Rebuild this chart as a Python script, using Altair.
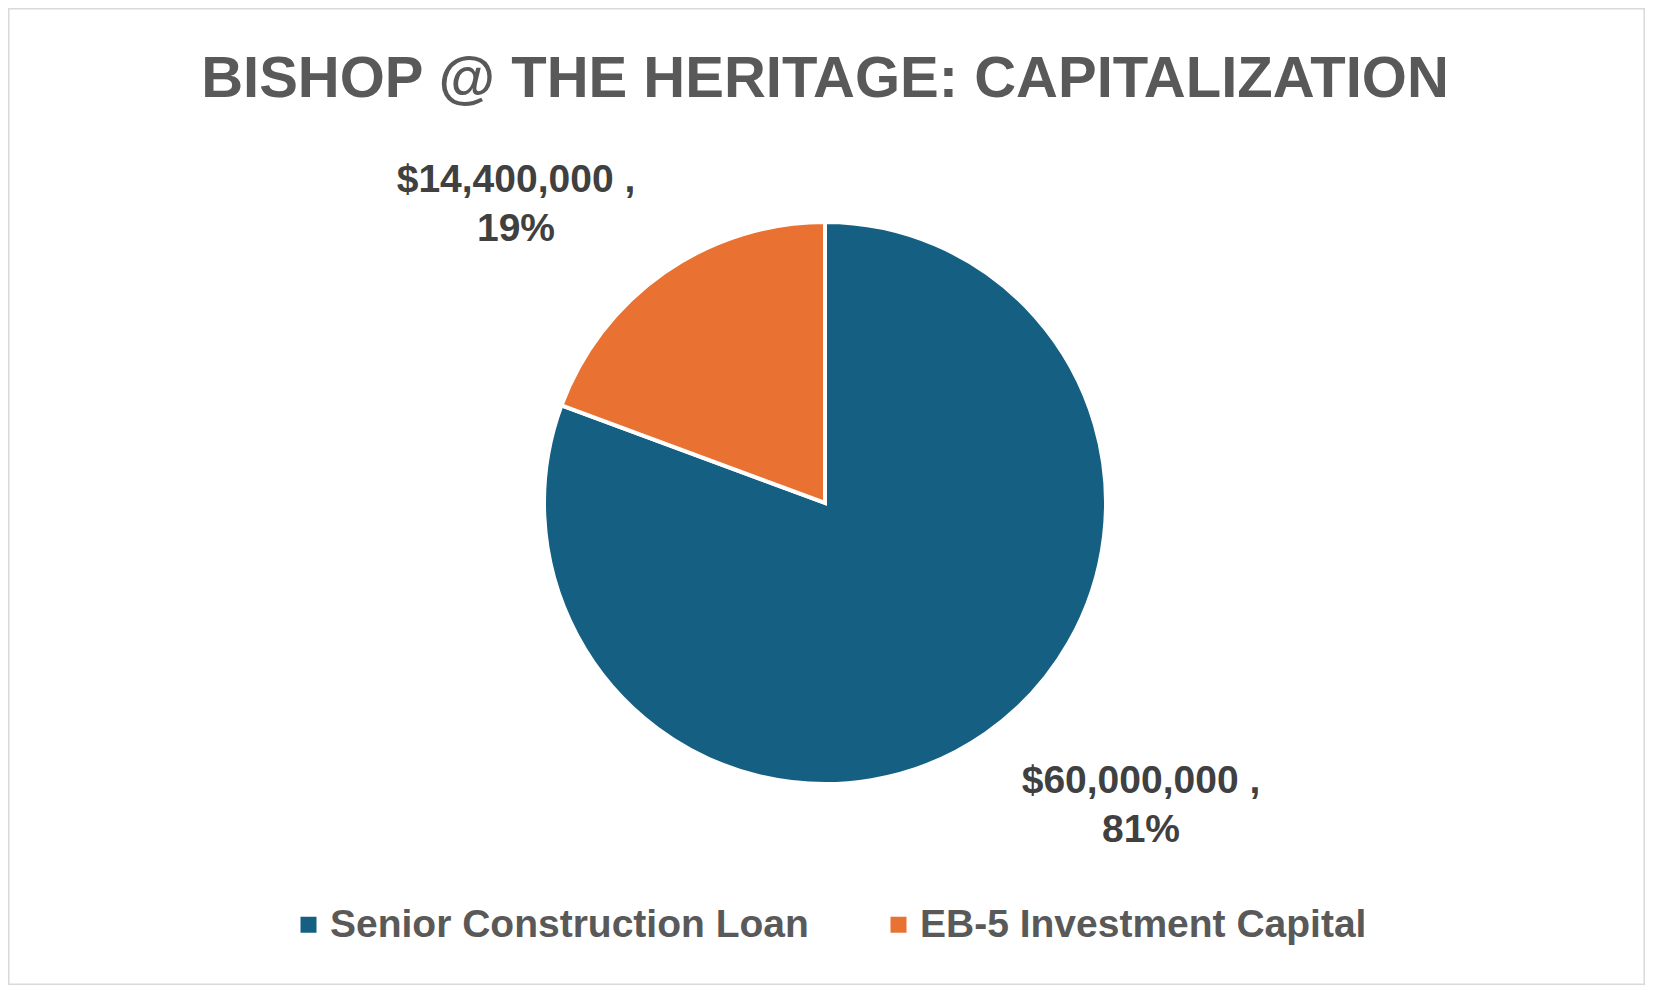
import altair as alt
import pandas as pd

title_text = "BISHOP @ THE HERITAGE: CAPITALIZATION"
categories = ["Senior Construction Loan", "EB-5 Investment Capital"]
amounts = [60000000, 14400000]
colors = ["#156082", "#E97132"]

total = sum(amounts)
labels = [f"${a:,} ,\n{round(100 * a / total)}%" for a in amounts]
df = pd.DataFrame({
    "category": categories,
    "amount": amounts,
    "label": labels,
    "idx": list(range(len(categories))),
})

FONT = "Liberation Sans"

pie = alt.Chart(df).mark_arc(radius=281, stroke="white", strokeWidth=4).encode(
    theta=alt.Theta("amount:Q", stack=True),
    color=alt.Color(
        "category:N",
        scale=alt.Scale(domain=categories, range=colors),
        legend=alt.Legend(
            orient="none", legendX=281, legendY=897, direction="horizontal",
            title=None, symbolType="square", symbolSize=256, symbolStrokeWidth=0,
            labelFontSize=39, labelFont=FONT, labelFontWeight="bold",
            labelColor="#595959", columnPadding=70, labelOffset=2,
            padding=0, labelLimit=0,
        ),
    ),
    order=alt.Order("idx:Q"),
    x=alt.value(817),
    y=alt.value(495),
)

def label_layer(cat, x, y):
    return alt.Chart(df).transform_filter(alt.datum.category == cat).mark_text(
        font=FONT, fontSize=39, fontWeight="bold", color="#404040",
        lineBreak="\n", lineHeight=49, align="center", baseline="middle",
    ).encode(text="label:N", x=alt.value(x), y=alt.value(y))

lab_orange = label_layer(categories[1], 508, 172)
lab_blue = label_layer(categories[0], 1133, 773)

title = alt.Chart(pd.DataFrame({"t": [title_text]})).mark_text(
    font=FONT, fontSize=58, fontWeight="bold", color="#595959",
    align="center", baseline="middle",
).encode(text="t:N", x=alt.value(817), y=alt.value(72))

chart = alt.layer(pie, lab_orange, lab_blue, title).properties(
    width=1637, height=977, padding=0,
    autosize=alt.AutoSizeParams(type="fit", contains="padding"),
    background="white",
).configure_view(stroke="#d9d9d9", strokeWidth=3)

chart.save("out.html", embed_options={"renderer": "svg", "actions": False})
